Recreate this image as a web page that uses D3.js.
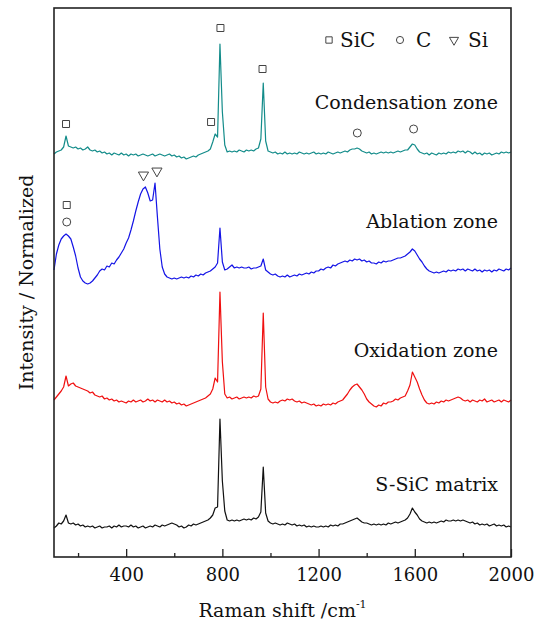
<!DOCTYPE html>
<html>
<head>
<meta charset="utf-8">
<script src="https://cdn.jsdelivr.net/npm/d3@7"></script>
<style>
  body { margin: 0; background: #fff; }
  text { font-family: "DejaVu Serif", serif; fill: #111; }
</style>
</head>
<body>
<svg id="chart" width="539" height="624"></svg>
<script>
// Raman spectra, 4 zones (stacked, normalized)
var wavenumbers = d3.range(100, 2001, 10);

var condensation = [
 4.03,4.05,4.06,4.07,4.10,4.21,4.11,4.10,4.09,4.10,
 4.08,4.09,4.07,4.08,4.10,4.07,4.06,4.07,4.05,4.06,
 4.04,4.05,4.03,4.04,4.02,4.04,4.03,4.02,4.04,4.02,
 4.03,4.01,4.03,4.02,4.03,4.01,4.02,4.03,4.02,4.01,
 4.02,4.03,4.01,4.02,4.03,4.02,4.01,4.02,4.03,4.01,
 4.02,4.00,4.01,3.99,4.00,3.98,3.99,4.00,4.01,4.00,
 4.02,4.03,4.04,4.05,4.06,4.08,4.15,4.23,4.20,5.13,
 4.45,4.12,4.05,4.06,4.05,4.06,4.05,4.07,4.06,4.05,
 4.07,4.06,4.07,4.06,4.08,4.09,4.18,4.74,4.16,4.06,
 4.05,4.04,4.05,4.03,4.04,4.03,4.05,4.03,4.04,4.03,
 4.04,4.03,4.05,4.04,4.03,4.04,4.03,4.04,4.05,4.03,
 4.04,4.03,4.04,4.03,4.05,4.04,4.03,4.04,4.05,4.04,
 4.05,4.06,4.05,4.07,4.08,4.08,4.09,4.08,4.06,4.05,
 4.04,4.05,4.03,4.04,4.03,4.04,4.05,4.04,4.05,4.04,
 4.05,4.04,4.05,4.06,4.05,4.06,4.07,4.07,4.10,4.13,
 4.12,4.08,4.05,4.04,4.03,4.04,4.02,4.04,4.03,4.02,
 4.04,4.03,4.04,4.03,4.05,4.04,4.05,4.04,4.06,4.05,
 4.06,4.04,4.06,4.05,4.03,4.05,4.03,4.04,4.02,4.04,
 4.03,4.04,4.02,4.03,4.04,4.03,4.05,4.04,4.05,4.04,
 4.05
];

var ablation = [
 2.87,3.03,3.12,3.18,3.21,3.23,3.21,3.18,3.10,3.01,
 2.89,2.80,2.76,2.74,2.73,2.74,2.76,2.79,2.82,2.86,
 2.88,2.87,2.91,2.90,2.94,2.93,2.97,3.00,3.04,3.08,
 3.14,3.19,3.27,3.36,3.46,3.55,3.63,3.68,3.70,3.64,
 3.56,3.57,3.74,3.40,3.08,2.90,2.83,2.80,2.79,2.78,
 2.79,2.78,2.79,2.80,2.79,2.80,2.79,2.81,2.80,2.82,
 2.81,2.83,2.82,2.84,2.85,2.86,2.88,2.90,2.94,3.29,
 2.95,2.87,2.88,2.90,2.92,2.89,2.90,2.89,2.90,2.89,
 2.89,2.90,2.88,2.89,2.89,2.90,2.91,2.98,2.87,2.85,
 2.83,2.82,2.83,2.81,2.80,2.81,2.80,2.82,2.80,2.81,
 2.82,2.81,2.83,2.82,2.83,2.84,2.83,2.85,2.84,2.86,
 2.86,2.88,2.87,2.89,2.90,2.89,2.92,2.91,2.93,2.94,
 2.95,2.96,2.95,2.97,2.96,2.98,2.97,2.98,2.96,2.97,
 2.95,2.96,2.94,2.94,2.93,2.95,2.94,2.96,2.95,2.96,
 2.96,2.97,2.98,2.99,2.99,3.00,3.01,3.03,3.05,3.08,
 3.06,3.02,2.98,2.95,2.91,2.88,2.86,2.85,2.84,2.85,
 2.84,2.85,2.86,2.85,2.87,2.86,2.87,2.86,2.88,2.87,
 2.88,2.86,2.88,2.87,2.86,2.88,2.86,2.87,2.85,2.87,
 2.86,2.87,2.85,2.87,2.86,2.88,2.87,2.86,2.88,2.87,
 2.89
];

var oxidation = [
 1.57,1.60,1.63,1.66,1.70,1.81,1.71,1.73,1.74,1.71,
 1.70,1.69,1.68,1.67,1.66,1.64,1.65,1.62,1.61,1.60,
 1.61,1.58,1.59,1.57,1.58,1.56,1.57,1.55,1.56,1.55,
 1.54,1.56,1.55,1.57,1.55,1.56,1.57,1.55,1.56,1.58,
 1.56,1.57,1.55,1.57,1.56,1.55,1.57,1.55,1.56,1.54,
 1.55,1.53,1.54,1.52,1.53,1.51,1.52,1.53,1.54,1.55,
 1.56,1.57,1.58,1.59,1.61,1.63,1.68,1.79,1.75,2.65,
 1.95,1.63,1.59,1.60,1.58,1.59,1.60,1.58,1.59,1.60,
 1.59,1.60,1.59,1.61,1.60,1.61,1.68,2.44,1.70,1.58,
 1.55,1.54,1.55,1.54,1.56,1.57,1.56,1.58,1.57,1.58,
 1.56,1.55,1.56,1.54,1.55,1.54,1.53,1.52,1.53,1.51,
 1.52,1.51,1.53,1.52,1.53,1.52,1.54,1.53,1.55,1.56,
 1.57,1.60,1.63,1.67,1.70,1.72,1.73,1.70,1.67,1.63,
 1.58,1.55,1.53,1.51,1.50,1.52,1.51,1.54,1.53,1.55,
 1.55,1.56,1.58,1.57,1.59,1.60,1.61,1.66,1.72,1.85,
 1.80,1.75,1.68,1.62,1.57,1.54,1.53,1.54,1.53,1.55,
 1.54,1.56,1.55,1.57,1.56,1.57,1.58,1.59,1.60,1.59,
 1.57,1.56,1.57,1.55,1.57,1.56,1.55,1.57,1.56,1.58,
 1.55,1.56,1.57,1.55,1.56,1.57,1.55,1.57,1.56,1.55,
 1.57
];

var matrix = [
 0.29,0.31,0.34,0.33,0.36,0.42,0.34,0.33,0.34,0.32,
 0.33,0.31,0.32,0.30,0.31,0.30,0.31,0.29,0.30,0.31,
 0.29,0.30,0.30,0.31,0.29,0.31,0.30,0.32,0.30,0.31,
 0.31,0.30,0.32,0.30,0.31,0.29,0.30,0.31,0.29,0.30,
 0.31,0.30,0.32,0.31,0.30,0.32,0.31,0.32,0.33,0.34,
 0.33,0.32,0.30,0.31,0.29,0.30,0.32,0.31,0.33,0.32,
 0.33,0.34,0.35,0.36,0.37,0.39,0.42,0.49,0.50,1.38,
 0.76,0.46,0.37,0.36,0.37,0.36,0.37,0.36,0.37,0.38,
 0.37,0.38,0.37,0.39,0.38,0.40,0.45,0.90,0.44,0.36,
 0.34,0.33,0.34,0.33,0.32,0.33,0.32,0.34,0.33,0.32,
 0.33,0.31,0.32,0.31,0.32,0.30,0.31,0.30,0.31,0.30,
 0.30,0.31,0.30,0.31,0.30,0.32,0.31,0.32,0.31,0.33,
 0.33,0.34,0.35,0.36,0.37,0.38,0.39,0.37,0.35,0.34,
 0.34,0.33,0.32,0.33,0.32,0.33,0.32,0.33,0.32,0.34,
 0.33,0.34,0.35,0.34,0.35,0.36,0.37,0.39,0.43,0.49,
 0.45,0.42,0.38,0.36,0.35,0.34,0.35,0.34,0.35,0.34,
 0.35,0.36,0.35,0.37,0.36,0.36,0.37,0.36,0.37,0.36,
 0.37,0.36,0.35,0.34,0.35,0.33,0.34,0.32,0.33,0.32,
 0.33,0.31,0.32,0.33,0.31,0.32,0.31,0.32,0.30,0.31,
 0.30
];

var seriesNames = ["Condensation zone", "Ablation zone", "Oxidation zone", "S-SiC matrix"];
var seriesColors = ["#138c8a", "#1414e6", "#f01010", "#111111"];
var labelLevels = [4.48, 3.29, 2.00, 0.66];

// peak markers [wavenumber, level]
var sicMarks = [[150, 4.33], [753, 4.35], [792, 5.29], [967, 4.88], [153, 3.52]];
var cMarks = [[1361, 4.24], [1595, 4.28], [153, 3.35]];
var siMarks = [[472, 3.82], [528, 3.86]];

var xTicks = [200, 400, 600, 800, 1000, 1200, 1400, 1600, 1800, 2000];

var svg = d3.select("#chart");
var plotL = 54, plotR = 511, plotT = 8, plotB = 557;

var x = d3.scaleLinear().domain([100, 2000]).range([plotL, plotR]);
var y = d3.scaleLinear().domain([0, 5.49]).range([plotB, plotT]);

var line = d3.line()
    .x(function(d, i) { return x(wavenumbers[i]); })
    .y(function(d) { return y(d); });

var allSeries = [condensation, ablation, oxidation, matrix];

svg.append("g").attr("id", "spectra")
    .selectAll("path")
    .data(allSeries).enter().append("path")
    .attr("fill", "none")
    .attr("stroke", function(d, i) { return seriesColors[i]; })
    .attr("stroke-width", 1.2)
    .attr("stroke-linejoin", "round")
    .attr("d", line);

// zone labels
svg.append("g").selectAll("text")
    .data(seriesNames).enter().append("text")
    .attr("x", 498)
    .attr("y", function(d, i) { return y(labelLevels[i]); })
    .attr("text-anchor", "end")
    .attr("font-size", 19)
    .text(function(d) { return d; });

// markers
var mk = svg.append("g").attr("fill", "#fff").attr("stroke", "#444").attr("stroke-width", 1);
mk.selectAll(".sq").data(sicMarks).enter().append("path")
    .attr("d", d3.symbol().type(d3.symbolSquare).size(49))
    .attr("transform", function(d) { return "translate(" + x(d[0]) + "," + y(d[1]) + ")"; });
mk.selectAll(".ci").data(cMarks).enter().append("path")
    .attr("d", d3.symbol().type(d3.symbolCircle).size(50))
    .attr("transform", function(d) { return "translate(" + x(d[0]) + "," + y(d[1]) + ")"; });
mk.selectAll(".tr").data(siMarks).enter().append("path")
    .attr("d", d3.symbol().type(d3.symbolTriangle).size(45))
    .attr("transform", function(d) { return "translate(" + x(d[0]) + "," + y(d[1]) + ") rotate(180)"; });

// legend
var leg = svg.append("g");
var legItems = [
    {sym: d3.symbolSquare, size: 40, lab: "SiC", sx: 329, tx: 340, rot: 0},
    {sym: d3.symbolCircle, size: 40, lab: "C", sx: 400, tx: 416, rot: 0},
    {sym: d3.symbolTriangle, size: 36, lab: "Si", sx: 454, tx: 468, rot: 180}
];
legItems.forEach(function(it) {
    leg.append("path")
        .attr("d", d3.symbol().type(it.sym).size(it.size))
        .attr("transform", "translate(" + it.sx + ",40) rotate(" + it.rot + ")")
        .attr("fill", "#fff").attr("stroke", "#444").attr("stroke-width", 1);
    leg.append("text")
        .attr("x", it.tx).attr("y", 46.5)
        .attr("font-size", 20)
        .text(it.lab);
});

// x axis
var xAxis = d3.axisBottom(x)
    .tickValues(xTicks)
    .tickSize(-8)
    .tickPadding(11)
    .tickFormat(function(d) { return d % 400 === 0 ? d : ""; });

var gx = svg.append("g")
    .attr("transform", "translate(0," + plotB + ")")
    .call(xAxis);
gx.select(".domain").remove();
gx.selectAll(".tick line")
    .attr("stroke", "#222").attr("stroke-width", 1.3)
    .attr("y2", function(d) { return d % 400 === 0 ? -8 : -4; });
gx.selectAll(".tick text")
    .attr("font-family", "DejaVu Serif").attr("font-size", 18).attr("fill", "#111");

// frame
svg.append("rect")
    .attr("x", plotL).attr("y", plotT)
    .attr("width", plotR - plotL).attr("height", plotB - plotT)
    .attr("fill", "none").attr("stroke", "#222").attr("stroke-width", 1.6);

// axis titles
var xt = svg.append("text")
    .attr("x", (plotL + plotR) / 2).attr("y", 617)
    .attr("text-anchor", "middle")
    .attr("font-size", 19);
xt.append("tspan").text("Raman shift /cm");
xt.append("tspan").attr("font-size", 11).attr("dy", -9).text("-1");

svg.append("text")
    .attr("transform", "translate(33," + ((plotT + plotB) / 2) + ") rotate(-90)")
    .attr("text-anchor", "middle")
    .attr("font-size", 19)
    .text("Intensity / Normalized");
</script>
</body>
</html>
